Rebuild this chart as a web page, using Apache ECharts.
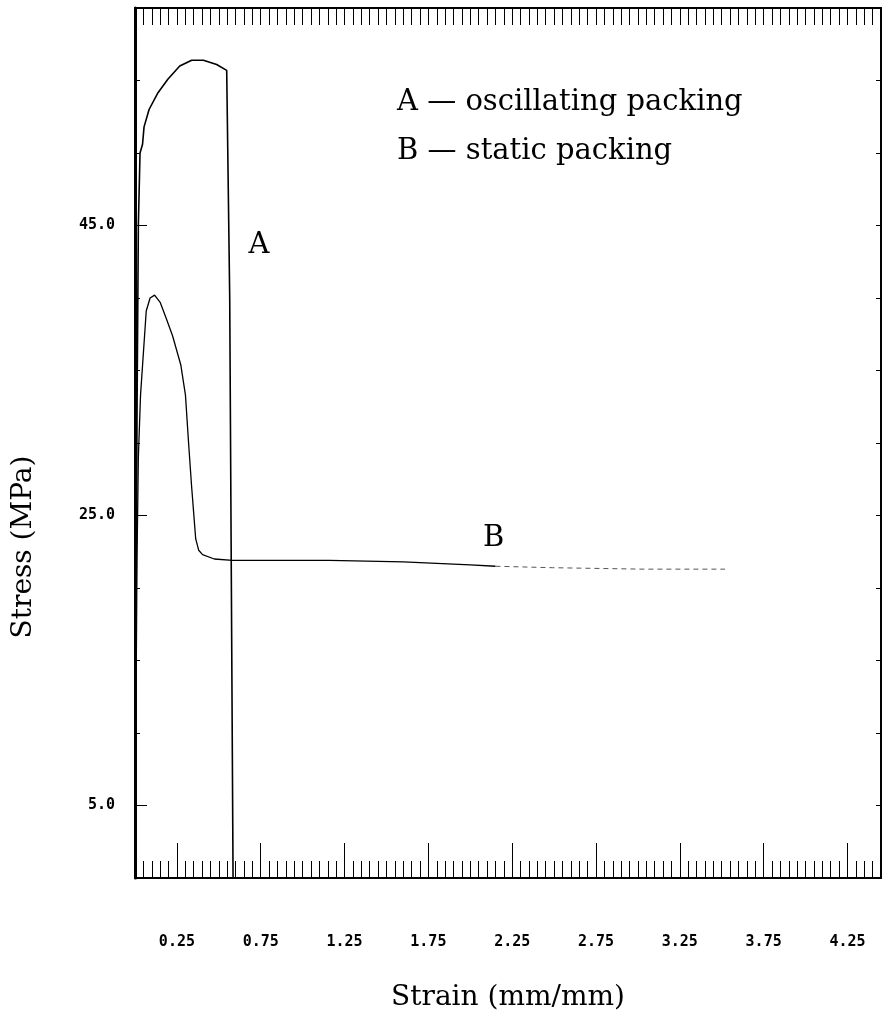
<!DOCTYPE html>
<html>
<head>
<meta charset="utf-8">
<title>Stress vs strain</title>
<script src="https://cdn.jsdelivr.net/npm/echarts@6/dist/echarts.min.js"></script>
<style>
  html, body { margin: 0; padding: 0; background: #fff; }
  #main { width: 885px; height: 1023px; }
</style>
</head>
<body>
<div id="main"></div>
<script>
// curve A - oscillating packing
var aStrain = [0, 0.005, 0.012, 0.02, 0.03, 0.045, 0.054, 0.084, 0.134, 0.197, 0.267, 0.338, 0.408, 0.487, 0.547, 0.565, 0.585];
var aStress = [0, 14, 32, 45, 50.0, 50.6, 51.8, 53.0, 54.1, 55.1, 56.0, 56.4, 56.4, 56.1, 55.7, 40.0, 0];
// curve B - static packing
var bStrain = [0, 0.005, 0.012, 0.02, 0.033, 0.067, 0.09, 0.117, 0.15, 0.186, 0.224, 0.273, 0.301, 0.319, 0.337, 0.362, 0.38, 0.403, 0.473, 0.582, 1.16, 1.60, 2.00, 2.15];
var bStress = [0, 10, 22, 29, 33.3, 39.1, 40.0, 40.2, 39.7, 38.6, 37.4, 35.4, 33.3, 30.1, 27.1, 23.4, 22.6, 22.3, 22.0, 21.9, 21.9, 21.8, 21.6, 21.5];
// faint end of B (broken in the print)
var bTailStrain = [2.15, 2.49, 3.03, 3.52];
var bTailStress = [21.5, 21.4, 21.3, 21.3];

var xLabels = [0.25, 0.75, 1.25, 1.75, 2.25, 2.75, 3.25, 3.75, 4.25];
var yLabels = [5, 25, 45];
var yTicks = [5, 10, 15, 20, 25, 30, 35, 40, 45, 50, 55];

// minor ticks every 0.05 along the strain axis
var xMinorTicks = [];
for (var i = 1; i <= 88; i++) xMinorTicks.push(+(i * 0.05).toFixed(2));

function pairs(xs, ys) {
  return xs.map(function (x, i) { return [x, ys[i]]; });
}

var mono = 'DejaVu Sans Mono';
var serif = 'DejaVu Serif';
var gridBox = { left: 135, right: 4, top: 8, bottom: 145, containLabel: false };

function line(show, w) {
  return { show: show, onZero: false, lineStyle: { color: '#000', width: w || 2 } };
}
function ticks(len, values) {
  return { inside: true, length: len, customValues: values, lineStyle: { color: '#000', width: 1 } };
}

var chart = echarts.init(document.getElementById('main'));
chart.setOption({
  animation: false,
  backgroundColor: '#fff',
  grid: [gridBox, gridBox],
  xAxis: [{
    gridIndex: 0, type: 'value', min: 0, max: 4.45, position: 'bottom',
    axisLine: line(true, 2),
    axisTick: ticks(17, xMinorTicks),
    axisLabel: {
      customValues: xLabels, margin: 57,
      formatter: function (v) { return v.toFixed(2); },
      fontFamily: mono, fontWeight: 'bold', fontSize: 15, color: '#000'
    },
    splitLine: { show: false },
    name: 'Strain (mm/mm)', nameLocation: 'middle', nameGap: 106,
    nameTextStyle: { fontFamily: serif, fontSize: 28, color: '#000' }
  }, {
    gridIndex: 0, type: 'value', min: 0, max: 4.45, position: 'top',
    axisLine: line(true, 2),
    axisTick: ticks(17, xMinorTicks),
    axisLabel: { show: false },
    splitLine: { show: false }
  }, {
    gridIndex: 1, type: 'value', min: 0, max: 4.45, position: 'bottom',
    axisLine: line(false),
    axisTick: ticks(35, xLabels),
    axisLabel: { show: false },
    splitLine: { show: false }
  }],
  yAxis: [{
    gridIndex: 0, type: 'value', min: 0, max: 60, position: 'left',
    axisLine: line(true, 3),
    axisTick: ticks(5, yTicks),
    axisLabel: {
      customValues: yLabels, margin: 20,
      formatter: function (v) { return v.toFixed(1); },
      fontFamily: mono, fontWeight: 'bold', fontSize: 15, color: '#000'
    },
    splitLine: { show: false }
  }, {
    gridIndex: 0, type: 'value', min: 0, max: 60, position: 'right',
    axisLine: line(true, 2),
    axisTick: ticks(5, yTicks),
    axisLabel: { show: false },
    splitLine: { show: false }
  }, {
    gridIndex: 1, type: 'value', min: 0, max: 60, position: 'left',
    axisLine: line(false),
    axisTick: ticks(12, yLabels),
    axisLabel: { show: false },
    splitLine: { show: false }
  }],
  series: [{
    name: 'A', type: 'line', xAxisIndex: 0, yAxisIndex: 0,
    data: pairs(aStrain, aStress), symbol: 'none',
    lineStyle: { color: '#000', width: 1.6 },
    markPoint: {
      symbol: 'circle', symbolSize: 0,
      label: { show: true, formatter: 'A', fontFamily: serif, fontSize: 29, color: '#000' },
      data: [{ coord: [0.74, 43.6] }]
    }
  }, {
    name: 'B', type: 'line', xAxisIndex: 0, yAxisIndex: 0,
    data: pairs(bStrain, bStress), symbol: 'none',
    lineStyle: { color: '#000', width: 1.3 },
    markPoint: {
      symbol: 'circle', symbolSize: 0,
      label: { show: true, formatter: 'B', fontFamily: serif, fontSize: 29, color: '#000' },
      data: [{ coord: [2.14, 23.4] }]
    }
  }, {
    name: 'B tail', type: 'line', xAxisIndex: 0, yAxisIndex: 0,
    data: pairs(bTailStrain, bTailStress), symbol: 'none',
    lineStyle: { color: '#555', width: 1, type: [5, 4] }
  }],
  graphic: [{
    type: 'text', left: 397, top: 88,
    style: { text: 'A \u2014 oscillating packing', font: '29px "DejaVu Serif"', fill: '#000' }
  }, {
    type: 'text', left: 397, top: 137,
    style: { text: 'B \u2014 static packing', font: '29px "DejaVu Serif"', fill: '#000' }
  }, {
    type: 'text', x: 24, y: 547, rotation: Math.PI / 2,
    style: { text: 'Stress (MPa)', font: '28px "DejaVu Serif"', fill: '#000', align: 'center', verticalAlign: 'middle' }
  }]
});
</script>
</body>
</html>
